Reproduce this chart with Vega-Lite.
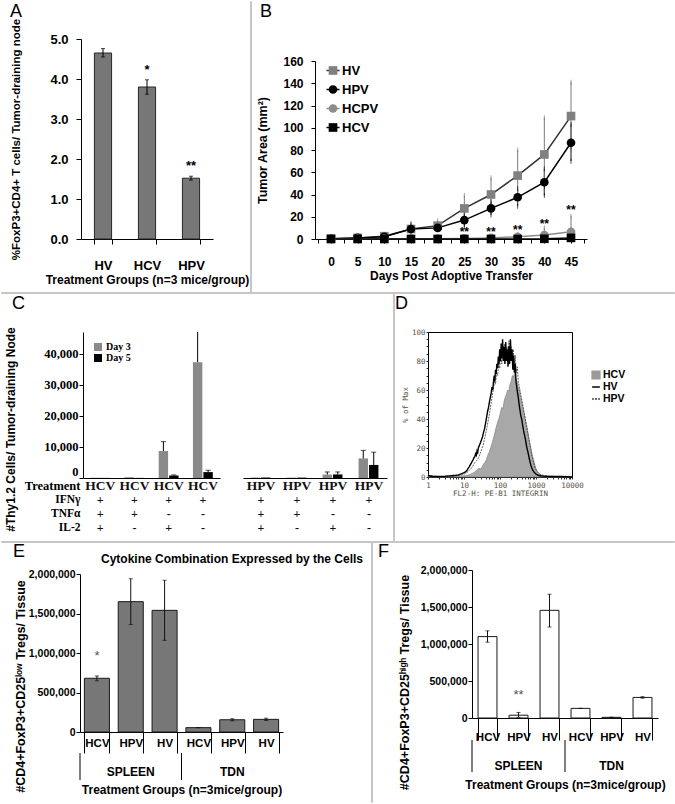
{
"$schema": "https://vega.github.io/schema/vega-lite/v6.json",
"padding": 0,
"background": "white",
"bounds": "flush",
"spacing": 0,
"resolve": {"scale": {"color": "independent", "fill": "independent", "stroke": "independent", "shape": "independent", "size": "independent", "opacity": "independent", "strokeDash": "independent"}, "legend": {"color": "independent", "fill": "independent", "stroke": "independent", "shape": "independent", "size": "independent", "opacity": "independent", "strokeDash": "independent"}},
"config": {
  "view": {"stroke": null},
  "font": "Liberation Sans",
  "axis": {"labelFont": "Liberation Sans", "labelFontWeight": "bold", "labelFontSize": 12, "labelColor": "black", "titleFont": "Liberation Sans", "titleFontWeight": "bold", "titleFontSize": 12, "titleColor": "black", "domainColor": "black", "tickColor": "black", "grid": false, "labelFlush": false, "labelOverlap": false},
  "legend": {"labelFont": "Liberation Sans", "labelFontWeight": "bold", "labelColor": "black"},
  "title": {"anchor": "start", "frame": "group", "offset": 0, "baseline": "alphabetic", "font": "Liberation Sans", "fontSize": 18, "fontWeight": "normal", "color": "black"}
},
"datasets": {
  "A": [
    {"group": "HV", "value": 4.65, "lo": 4.55, "hi": 4.76, "star": "", "starY": 4.65},
    {"group": "HCV", "value": 3.8, "lo": 3.62, "hi": 3.98, "star": "*", "starY": 4.13},
    {"group": "HPV", "value": 1.52, "lo": 1.47, "hi": 1.57, "star": "**", "starY": 1.72}
  ],
  "B": [
    {"series": "HV", "day": 0, "value": 0.3, "lo": 0.3, "hi": 0.3},
    {"series": "HV", "day": 5, "value": 1, "lo": 0.5, "hi": 1.5},
    {"series": "HV", "day": 10, "value": 2.5, "lo": 1.5, "hi": 3.5},
    {"series": "HV", "day": 15, "value": 9, "lo": 4, "hi": 14},
    {"series": "HV", "day": 20, "value": 12, "lo": 7.5, "hi": 16.5},
    {"series": "HV", "day": 25, "value": 27.5, "lo": 16, "hi": 39},
    {"series": "HV", "day": 30, "value": 40, "lo": 25, "hi": 55},
    {"series": "HV", "day": 35, "value": 57, "lo": 34, "hi": 80},
    {"series": "HV", "day": 40, "value": 76, "lo": 43, "hi": 109},
    {"series": "HV", "day": 45, "value": 110.5, "lo": 80, "hi": 141},
    {"series": "HPV", "day": 0, "value": 0.2, "lo": 0.2, "hi": 0.2},
    {"series": "HPV", "day": 5, "value": 1, "lo": 0.7, "hi": 1.3},
    {"series": "HPV", "day": 10, "value": 2, "lo": 1.5, "hi": 2.5},
    {"series": "HPV", "day": 15, "value": 9, "lo": 5, "hi": 13},
    {"series": "HPV", "day": 20, "value": 10, "lo": 7, "hi": 13},
    {"series": "HPV", "day": 25, "value": 17, "lo": 11, "hi": 23},
    {"series": "HPV", "day": 30, "value": 27.5, "lo": 21.5, "hi": 33.5},
    {"series": "HPV", "day": 35, "value": 37.5, "lo": 29.5, "hi": 45.5},
    {"series": "HPV", "day": 40, "value": 51, "lo": 39, "hi": 63},
    {"series": "HPV", "day": 45, "value": 86.5, "lo": 70, "hi": 103},
    {"series": "HCPV", "day": 0, "value": 0, "lo": 0, "hi": 0},
    {"series": "HCPV", "day": 5, "value": 0.3, "lo": 0.3, "hi": 0.3},
    {"series": "HCPV", "day": 10, "value": 0.3, "lo": 0.3, "hi": 0.3},
    {"series": "HCPV", "day": 15, "value": 0.3, "lo": 0.3, "hi": 0.3},
    {"series": "HCPV", "day": 20, "value": 0.3, "lo": 0.3, "hi": 0.3},
    {"series": "HCPV", "day": 25, "value": 0.5, "lo": 0, "hi": 1.5},
    {"series": "HCPV", "day": 30, "value": 1, "lo": 0, "hi": 2.5},
    {"series": "HCPV", "day": 35, "value": 2, "lo": 0, "hi": 4},
    {"series": "HCPV", "day": 40, "value": 3.5, "lo": 0, "hi": 10},
    {"series": "HCPV", "day": 45, "value": 6.5, "lo": 0, "hi": 20.5},
    {"series": "HCV", "day": 0, "value": 0, "lo": 0, "hi": 0},
    {"series": "HCV", "day": 5, "value": 0, "lo": 0, "hi": 0},
    {"series": "HCV", "day": 10, "value": 0, "lo": 0, "hi": 0},
    {"series": "HCV", "day": 15, "value": 0, "lo": 0, "hi": 0},
    {"series": "HCV", "day": 20, "value": 0, "lo": 0, "hi": 0},
    {"series": "HCV", "day": 25, "value": 0, "lo": 0, "hi": 0},
    {"series": "HCV", "day": 30, "value": 0, "lo": 0, "hi": 0},
    {"series": "HCV", "day": 35, "value": 0, "lo": 0, "hi": 0},
    {"series": "HCV", "day": 40, "value": 0.2, "lo": 0, "hi": 0.4},
    {"series": "HCV", "day": 45, "value": 1, "lo": 0, "hi": 2}
  ],
  "Bstar": [
    {"day": 25, "value": 2.6}, {"day": 30, "value": 2.6}, {"day": 35, "value": 4.2}, {"day": 40, "value": 9.6}, {"day": 45, "value": 22.2}
  ],
  "BL": [{"series": "HV"}, {"series": "HPV"}, {"series": "HCPV"}, {"series": "HCV"}],
  "CL": [
    {"col": "c1", "day": "Day 3", "value": 50, "hi": 50, "cap": null},
    {"col": "c1", "day": "Day 5", "value": 30, "hi": 30, "cap": null},
    {"col": "c2", "day": "Day 3", "value": 250, "hi": 250, "cap": null},
    {"col": "c2", "day": "Day 5", "value": 30, "hi": 30, "cap": null},
    {"col": "c3", "day": "Day 3", "value": 8700, "hi": 11700, "cap": 11700},
    {"col": "c3", "day": "Day 5", "value": 800, "hi": 1000, "cap": 1000},
    {"col": "c4", "day": "Day 3", "value": 37300, "hi": 47000, "cap": null},
    {"col": "c4", "day": "Day 5", "value": 1900, "hi": 2500, "cap": 2500}
  ],
  "CR": [
    {"col": "c5", "day": "Day 3", "value": 150, "hi": 150, "cap": null},
    {"col": "c5", "day": "Day 5", "value": 150, "hi": 150, "cap": null},
    {"col": "c6", "day": "Day 3", "value": 120, "hi": 120, "cap": null},
    {"col": "c6", "day": "Day 5", "value": 120, "hi": 120, "cap": null},
    {"col": "c7", "day": "Day 3", "value": 1100, "hi": 1950, "cap": 1950},
    {"col": "c7", "day": "Day 5", "value": 1150, "hi": 1950, "cap": 1950},
    {"col": "c8", "day": "Day 3", "value": 6300, "hi": 8900, "cap": 8900},
    {"col": "c8", "day": "Day 5", "value": 4200, "hi": 8300, "cap": 8300}
  ],
  "TL": [
    {"col": "c1", "row": "Treatment", "txt": "HCV"}, {"col": "c2", "row": "Treatment", "txt": "HCV"}, {"col": "c3", "row": "Treatment", "txt": "HCV"}, {"col": "c4", "row": "Treatment", "txt": "HCV"},
    {"col": "c1", "row": "IFNγ", "txt": "+"}, {"col": "c2", "row": "IFNγ", "txt": "+"}, {"col": "c3", "row": "IFNγ", "txt": "+"}, {"col": "c4", "row": "IFNγ", "txt": "+"},
    {"col": "c1", "row": "TNFα", "txt": "+"}, {"col": "c2", "row": "TNFα", "txt": "+"}, {"col": "c3", "row": "TNFα", "txt": "-"}, {"col": "c4", "row": "TNFα", "txt": "-"},
    {"col": "c1", "row": "IL-2", "txt": "+"}, {"col": "c2", "row": "IL-2", "txt": "-"}, {"col": "c3", "row": "IL-2", "txt": "+"}, {"col": "c4", "row": "IL-2", "txt": "-"}
  ],
  "TR": [
    {"col": "c5", "row": "Treatment", "txt": "HPV"}, {"col": "c6", "row": "Treatment", "txt": "HPV"}, {"col": "c7", "row": "Treatment", "txt": "HPV"}, {"col": "c8", "row": "Treatment", "txt": "HPV"},
    {"col": "c5", "row": "IFNγ", "txt": "+"}, {"col": "c6", "row": "IFNγ", "txt": "+"}, {"col": "c7", "row": "IFNγ", "txt": "+"}, {"col": "c8", "row": "IFNγ", "txt": "+"},
    {"col": "c5", "row": "TNFα", "txt": "+"}, {"col": "c6", "row": "TNFα", "txt": "+"}, {"col": "c7", "row": "TNFα", "txt": "-"}, {"col": "c8", "row": "TNFα", "txt": "-"},
    {"col": "c5", "row": "IL-2", "txt": "+"}, {"col": "c6", "row": "IL-2", "txt": "-"}, {"col": "c7", "row": "IL-2", "txt": "+"}, {"col": "c8", "row": "IL-2", "txt": "-"}
  ],
  "DHCV": [
    {"x": 1, "y": 1.5}, {"x": 1.2, "y": 0.8}, {"x": 1.5, "y": 0.5}, {"x": 2, "y": 0.3}, {"x": 3, "y": 0.2}, {"x": 5, "y": 0.4}, {"x": 8, "y": 0.6}, {"x": 11, "y": 1}, {"x": 14, "y": 1.5}, {"x": 17, "y": 2.5}, {"x": 20, "y": 3.5}, {"x": 23, "y": 5}, {"x": 26, "y": 6}, {"x": 29, "y": 5.5}, {"x": 32, "y": 7}, {"x": 35, "y": 9}, {"x": 38, "y": 10}, {"x": 42, "y": 12}, {"x": 46, "y": 15}, {"x": 50, "y": 17}, {"x": 55, "y": 20}, {"x": 60, "y": 23}, {"x": 65, "y": 26}, {"x": 70, "y": 29}, {"x": 76, "y": 33}, {"x": 82, "y": 36}, {"x": 89, "y": 39}, {"x": 96, "y": 41}, {"x": 104, "y": 45}, {"x": 112, "y": 48}, {"x": 121, "y": 47}, {"x": 130, "y": 52}, {"x": 140, "y": 55}, {"x": 151, "y": 57}, {"x": 163, "y": 60}, {"x": 176, "y": 59}, {"x": 190, "y": 64}, {"x": 205, "y": 66}, {"x": 221, "y": 70}, {"x": 238, "y": 69}, {"x": 256, "y": 72}, {"x": 276, "y": 68}, {"x": 297, "y": 66}, {"x": 320, "y": 62}, {"x": 345, "y": 60}, {"x": 372, "y": 55}, {"x": 401, "y": 52}, {"x": 432, "y": 48}, {"x": 466, "y": 44}, {"x": 502, "y": 40}, {"x": 541, "y": 36}, {"x": 583, "y": 32}, {"x": 628, "y": 27}, {"x": 677, "y": 23}, {"x": 730, "y": 19}, {"x": 787, "y": 15}, {"x": 848, "y": 12}, {"x": 914, "y": 9}, {"x": 985, "y": 6}, {"x": 1062, "y": 4}, {"x": 1145, "y": 3}, {"x": 1300, "y": 1.5}, {"x": 1600, "y": 1}, {"x": 2200, "y": 0.5}, {"x": 4000, "y": 0.3}, {"x": 7000, "y": 0.2}, {"x": 10000, "y": 0}
  ],
  "DHV": [
    {"x": 1, "y": 1}, {"x": 1.3, "y": 0.5}, {"x": 2, "y": 0.3}, {"x": 3, "y": 0.5}, {"x": 4, "y": 0.8}, {"x": 5, "y": 1}, {"x": 6, "y": 1.2}, {"x": 7, "y": 1.5}, {"x": 8, "y": 2}, {"x": 9, "y": 2.5}, {"x": 10, "y": 3}, {"x": 11, "y": 3.5}, {"x": 12, "y": 4.5}, {"x": 13, "y": 6}, {"x": 14, "y": 7}, {"x": 15, "y": 8.5}, {"x": 16, "y": 9.5}, {"x": 17, "y": 11}, {"x": 18, "y": 12}, {"x": 19, "y": 13.5}, {"x": 20, "y": 14}, {"x": 21, "y": 16}, {"x": 22, "y": 15}, {"x": 23, "y": 18}, {"x": 24, "y": 17}, {"x": 25, "y": 20}, {"x": 27, "y": 22}, {"x": 29, "y": 24}, {"x": 31, "y": 26}, {"x": 33, "y": 28}, {"x": 35, "y": 31}, {"x": 37, "y": 33}, {"x": 39, "y": 36}, {"x": 41, "y": 39}, {"x": 43, "y": 42}, {"x": 45, "y": 45}, {"x": 48, "y": 48}, {"x": 51, "y": 52}, {"x": 54, "y": 55}, {"x": 57, "y": 58}, {"x": 60, "y": 62}, {"x": 63, "y": 60}, {"x": 66, "y": 66}, {"x": 69, "y": 70}, {"x": 72, "y": 66}, {"x": 75, "y": 74}, {"x": 78, "y": 71}, {"x": 82, "y": 78}, {"x": 86, "y": 75}, {"x": 90, "y": 83}, {"x": 94, "y": 78}, {"x": 98, "y": 88}, {"x": 103, "y": 80}, {"x": 108, "y": 92}, {"x": 113, "y": 82}, {"x": 118, "y": 95}, {"x": 124, "y": 80}, {"x": 130, "y": 90}, {"x": 137, "y": 78}, {"x": 144, "y": 93}, {"x": 151, "y": 80}, {"x": 159, "y": 88}, {"x": 167, "y": 76}, {"x": 176, "y": 90}, {"x": 185, "y": 78}, {"x": 195, "y": 95}, {"x": 205, "y": 80}, {"x": 216, "y": 88}, {"x": 227, "y": 74}, {"x": 239, "y": 84}, {"x": 251, "y": 72}, {"x": 264, "y": 78}, {"x": 278, "y": 66}, {"x": 292, "y": 62}, {"x": 307, "y": 58}, {"x": 322, "y": 55}, {"x": 340, "y": 50}, {"x": 360, "y": 46}, {"x": 380, "y": 42}, {"x": 400, "y": 40}, {"x": 430, "y": 35}, {"x": 460, "y": 31}, {"x": 500, "y": 27}, {"x": 550, "y": 21}, {"x": 600, "y": 17}, {"x": 660, "y": 12}, {"x": 720, "y": 8}, {"x": 800, "y": 5}, {"x": 900, "y": 3}, {"x": 1000, "y": 2}, {"x": 1200, "y": 1}, {"x": 1500, "y": 0.6}, {"x": 2000, "y": 0.4}, {"x": 3000, "y": 0.3}, {"x": 5000, "y": 0.3}, {"x": 7000, "y": 0.2}, {"x": 10000, "y": 0}
  ],
  "DHPV": [
    {"x": 1, "y": 0.8}, {"x": 2, "y": 0.3}, {"x": 4, "y": 0.5}, {"x": 6, "y": 0.8}, {"x": 8, "y": 1.2}, {"x": 10, "y": 2}, {"x": 12, "y": 3}, {"x": 14, "y": 4.5}, {"x": 16, "y": 6}, {"x": 18, "y": 8}, {"x": 20, "y": 10}, {"x": 22, "y": 11}, {"x": 25, "y": 13}, {"x": 28, "y": 16}, {"x": 31, "y": 19}, {"x": 34, "y": 22}, {"x": 37, "y": 26}, {"x": 40, "y": 30}, {"x": 44, "y": 35}, {"x": 48, "y": 40}, {"x": 52, "y": 45}, {"x": 56, "y": 50}, {"x": 60, "y": 55}, {"x": 65, "y": 60}, {"x": 70, "y": 66}, {"x": 75, "y": 64}, {"x": 80, "y": 72}, {"x": 86, "y": 70}, {"x": 92, "y": 78}, {"x": 98, "y": 75}, {"x": 105, "y": 84}, {"x": 112, "y": 78}, {"x": 120, "y": 88}, {"x": 128, "y": 82}, {"x": 137, "y": 92}, {"x": 146, "y": 84}, {"x": 156, "y": 90}, {"x": 167, "y": 82}, {"x": 178, "y": 94}, {"x": 190, "y": 84}, {"x": 203, "y": 90}, {"x": 217, "y": 80}, {"x": 232, "y": 88}, {"x": 248, "y": 78}, {"x": 265, "y": 84}, {"x": 283, "y": 72}, {"x": 302, "y": 76}, {"x": 322, "y": 66}, {"x": 345, "y": 62}, {"x": 370, "y": 58}, {"x": 396, "y": 54}, {"x": 424, "y": 50}, {"x": 454, "y": 46}, {"x": 486, "y": 42}, {"x": 520, "y": 38}, {"x": 557, "y": 34}, {"x": 596, "y": 30}, {"x": 638, "y": 26}, {"x": 683, "y": 22}, {"x": 731, "y": 18}, {"x": 782, "y": 14}, {"x": 837, "y": 11}, {"x": 896, "y": 8}, {"x": 960, "y": 6}, {"x": 1030, "y": 4.5}, {"x": 1100, "y": 3.5}, {"x": 1200, "y": 2.5}, {"x": 1400, "y": 1.5}, {"x": 1700, "y": 1}, {"x": 2200, "y": 0.6}, {"x": 3000, "y": 0.4}, {"x": 5000, "y": 0.3}, {"x": 10000, "y": 0}
  ],
  "DL": [{"series": "HCV"}, {"series": "HV"}, {"series": "HPV"}],
  "E": [
    {"key": "SPLEEN|HCV", "value": 680000, "lo": 650000, "hi": 710000, "star": "*", "starY": 914000},
    {"key": "SPLEEN|HPV", "value": 1650000, "lo": 1360000, "hi": 1940000, "star": "", "starY": 0},
    {"key": "SPLEEN|HV", "value": 1540000, "lo": 1160000, "hi": 1920000, "star": "", "starY": 0},
    {"key": "TDN|HCV", "value": 55000, "lo": 55000, "hi": 55000, "star": "", "starY": 0},
    {"key": "TDN|HPV", "value": 155000, "lo": 142000, "hi": 168000, "star": "", "starY": 0},
    {"key": "TDN|HV", "value": 160000, "lo": 145000, "hi": 175000, "star": "", "starY": 0}
  ],
  "F": [
    {"key": "SPLEEN|HCV", "value": 1100000, "lo": 1025000, "hi": 1178000, "star": "", "starY": 0},
    {"key": "SPLEEN|HPV", "value": 38000, "lo": 8000, "hi": 75000, "star": "**", "starY": 261000},
    {"key": "SPLEEN|HV", "value": 1455000, "lo": 1230000, "hi": 1672000, "star": "", "starY": 0},
    {"key": "TDN|HCV", "value": 130000, "lo": 130000, "hi": 130000, "star": "", "starY": 0},
    {"key": "TDN|HPV", "value": 9000, "lo": 9000, "hi": 9000, "star": "", "starY": 0},
    {"key": "TDN|HV", "value": 278000, "lo": 268000, "hi": 288000, "star": "", "starY": 0}
  ],
  "G": [
    {"key": "SPLEEN|HCV", "kind": "sep", "label": ""},
    {"key": "TDN|HCV", "kind": "sep", "label": ""},
    {"key": "SPLEEN|HPV", "kind": "lab", "label": "SPLEEN"},
    {"key": "TDN|HPV", "kind": "lab", "label": "TDN"}
  ]
},
"vconcat": [
  {"bounds": "flush", "spacing": 38, "vconcat": [
    {"width": 1, "height": 1, "data": {"values": []}, "mark": "point", "title": {"text": "A", "dx": 10, "dy": 25}},
    {"bounds": "flush", "spacing": 80, "hconcat": [
      {"width": 1, "height": 1, "data": {"values": []}, "mark": "point"},
      {"data": {"name": "A"}, "width": 132, "height": 200,
       "encoding": {
         "x": {"field": "group", "type": "nominal", "scale": {"type": "band", "domain": ["HV", "HCV", "HPV"], "paddingInner": 0.61, "paddingOuter": 0.305}, "axis": {"tickBand": "extent", "tickSize": 5, "labelPadding": 15, "labelFontSize": 13, "labelAngle": 0, "title": "Treatment Groups (n=3 mice/group)", "titlePadding": 2}},
         "y": {"field": "value", "type": "quantitative", "scale": {"domain": [0, 5], "nice": false}, "axis": {"values": [0, 1, 2, 3, 4, 5], "format": ".1f", "labelFontSize": 13, "tickSize": 5, "labelPadding": 8, "title": "%FoxP3+CD4+ T cells/ Tumor-draining node", "titleFontSize": 11.5, "titlePadding": 28}}
       },
       "layer": [
         {"mark": {"type": "bar", "fill": "#777777", "stroke": "#262626", "strokeWidth": 1}},
         {"mark": {"type": "rule", "color": "black"}, "encoding": {"y2": {"field": "hi"}}},
         {"mark": {"type": "rule", "color": "black"}, "encoding": {"y2": {"field": "lo"}}},
         {"transform": [{"fold": ["lo", "hi"], "as": ["k", "value"]}], "mark": {"type": "tick", "color": "black", "size": 4, "thickness": 1}},
         {"transform": [{"filter": "datum.star != ''"}, {"fold": ["starY"], "as": ["k", "value"]}], "mark": {"type": "text", "fontSize": 13, "fontWeight": "bold", "baseline": "alphabetic"}, "encoding": {"text": {"field": "star"}}}
       ]}
    ]}
  ]},
  {"bounds": "flush", "spacing": 60, "vconcat": [
    {"width": 1, "height": 1, "data": {"values": []}, "mark": "point", "title": {"text": "B", "dx": 260, "dy": 25}},
    {"bounds": "flush", "spacing": 314, "hconcat": [
      {"width": 1, "height": 1, "data": {"values": []}, "mark": "point"},
      {"width": 272, "height": 178,
       "encoding": {
         "x": {"field": "day", "type": "quantitative", "scale": {"domain": [-3, 48], "nice": false, "zero": false}, "axis": {"values": [-2.5, 0, 2.5, 5, 7.5, 10, 12.5, 15, 17.5, 20, 22.5, 25, 27.5, 30, 32.5, 35, 37.5, 40, 42.5, 45, 47.5], "labelExpr": "datum.value % 5 == 0 && datum.value >= 0 ? datum.label : ''", "tickSize": 4, "labelPadding": 13, "title": "Days Post Adoptive Transfer", "titlePadding": 3}},
         "y": {"field": "value", "type": "quantitative", "scale": {"domain": [0, 160], "nice": false}, "axis": {"values": [0, 20, 40, 60, 80, 100, 120, 140, 160], "tickSize": 4, "labelPadding": 8, "title": "Tumor Area (mm²)", "titleFontSize": 12.5, "titlePadding": 13}}
       },
       "layer": [
         {"data": {"name": "B"}, "mark": {"type": "rule", "strokeWidth": 1}, "encoding": {"y2": {"field": "hi"}, "color": {"condition": {"test": "datum.series == 'HV' || datum.series == 'HCPV'", "value": "#7a7a7a"}, "value": "#111111"}}},
         {"data": {"name": "B"}, "mark": {"type": "rule", "strokeWidth": 1}, "encoding": {"y2": {"field": "lo"}, "color": {"condition": {"test": "datum.series == 'HV' || datum.series == 'HCPV'", "value": "#7a7a7a"}, "value": "#111111"}}},
         {"data": {"name": "B"}, "transform": [{"filter": "datum.hi - datum.value > 1.5"}, {"fold": ["hi"], "as": ["k", "value"]}], "mark": {"type": "tick", "size": 5, "thickness": 1}, "encoding": {"color": {"condition": {"test": "datum.series == 'HV' || datum.series == 'HCPV'", "value": "#7a7a7a"}, "value": "#111111"}}},
         {"data": {"name": "B"}, "transform": [{"filter": "datum.value - datum.lo > 5"}, {"fold": ["lo"], "as": ["k", "value"]}], "mark": {"type": "tick", "size": 5, "thickness": 1}, "encoding": {"color": {"condition": {"test": "datum.series == 'HV' || datum.series == 'HCPV'", "value": "#7a7a7a"}, "value": "#111111"}}},
         {"data": {"name": "B"}, "mark": {"type": "line", "strokeWidth": 1.5}, "encoding": {"stroke": {"field": "series", "type": "nominal", "scale": {"domain": ["HV", "HPV", "HCPV", "HCV"], "range": ["#333333", "#000000", "#8c8c8c", "#000000"]}, "legend": null}, "detail": {"field": "series"}}},
         {"data": {"name": "B"}, "mark": {"type": "point", "filled": true, "opacity": 1, "size": 75}, "encoding": {"fill": {"field": "series", "type": "nominal", "scale": {"domain": ["HV", "HPV", "HCPV", "HCV"], "range": ["#808080", "#000000", "#8c8c8c", "#000000"]}, "legend": null}, "shape": {"field": "series", "type": "nominal", "scale": {"domain": ["HV", "HPV", "HCPV", "HCV"], "range": ["square", "circle", "circle", "square"]}, "legend": null}}},
         {"data": {"name": "Bstar"}, "mark": {"type": "text", "text": "**", "fontSize": 12, "fontWeight": "bold", "baseline": "alphabetic"}}
       ]}
    ]}
  ]},
  {"bounds": "flush", "spacing": 60, "vconcat": [
    {"width": 1, "height": 1, "data": {"values": []}, "mark": "point"},
    {"bounds": "flush", "spacing": 324, "hconcat": [
      {"width": 1, "height": 1, "data": {"values": []}, "mark": "point"},
      {"data": {"name": "BL"}, "width": 16, "height": 76,
       "encoding": {"y": {"field": "series", "type": "nominal", "scale": {"type": "point", "domain": ["HV", "HPV", "HCPV", "HCV"], "padding": 0.5}, "axis": null}},
       "layer": [
         {"mark": {"type": "point", "shape": "stroke", "size": 170, "strokeWidth": 1.5, "filled": false, "opacity": 1}, "encoding": {"stroke": {"field": "series", "type": "nominal", "scale": {"domain": ["HV", "HPV", "HCPV", "HCV"], "range": ["#333333", "#000000", "#8c8c8c", "#000000"]}, "legend": null}}},
         {"mark": {"type": "point", "filled": true, "opacity": 1, "size": 75}, "encoding": {"fill": {"field": "series", "type": "nominal", "scale": {"domain": ["HV", "HPV", "HCPV", "HCV"], "range": ["#808080", "#000000", "#8c8c8c", "#000000"]}, "legend": null}, "shape": {"field": "series", "type": "nominal", "scale": {"domain": ["HV", "HPV", "HCPV", "HCV"], "range": ["square", "circle", "circle", "square"]}, "legend": null}}},
         {"mark": {"type": "text", "align": "left", "baseline": "middle", "dx": 9, "fontWeight": "bold", "fontSize": 13}, "encoding": {"text": {"field": "series"}}}
       ]}
    ]}
  ]},
  {"bounds": "flush", "spacing": 331,
   "resolve": {"scale": {"color": "independent"}, "legend": {"color": "independent"}},
   "vconcat": [
    {"width": 1, "height": 1, "data": {"values": []}, "mark": "point", "title": {"text": "C", "dx": 12, "dy": 317}},
    {"bounds": "flush", "spacing": 82,
     "resolve": {"scale": {"color": "independent"}, "legend": {"color": "independent"}},
     "hconcat": [
      {"width": 1, "height": 1, "data": {"values": []}, "mark": "point"},
      {"data": {"name": "CL"}, "width": 137, "height": 146,
       "encoding": {
         "x": {"field": "col", "type": "nominal", "scale": {"type": "band", "domain": ["c1", "c2", "c3", "c4"], "paddingInner": 0.42, "paddingOuter": 0.21}, "axis": {"labels": false, "ticks": false, "title": null}},
         "xOffset": {"field": "day", "type": "nominal", "scale": {"domain": ["Day 3", "Day 5"], "paddingInner": 0.1}},
         "y": {"field": "value", "type": "quantitative", "scale": {"domain": [0, 47000], "nice": false}, "axis": {"values": [0, 10000, 20000, 30000, 40000], "format": ",.0f", "labelFont": "Liberation Serif", "labelFontSize": 12.5, "labelBaseline": {"condition": {"test": "datum.value == 0", "value": "bottom"}, "value": "middle"}, "tickSize": 4, "labelPadding": 1, "title": "#Thy1.2 Cells/ Tumor-draining Node", "titleFontSize": 12, "titleY": 97, "titlePadding": 26}}
       },
       "layer": [
         {"mark": {"type": "bar"}, "encoding": {"color": {"field": "day", "type": "nominal", "scale": {"domain": ["Day 3", "Day 5"], "range": ["#8a8a8a", "#000000"]}, "legend": {"orient": "none", "legendX": 10, "legendY": 10, "title": null, "symbolType": "square", "symbolSize": 64, "labelFont": "Liberation Serif", "labelFontSize": 10, "rowPadding": 1, "labelOffset": 3}}}},
         {"mark": {"type": "rule", "color": "black"}, "encoding": {"y2": {"field": "hi"}}},
         {"transform": [{"fold": ["cap"], "as": ["k", "value"]}, {"filter": "isValid(datum.value)"}], "mark": {"type": "tick", "color": "black", "size": 5, "thickness": 1}}
       ]}
    ]}
  ]},
  {"bounds": "flush", "spacing": 331, "vconcat": [
    {"width": 1, "height": 1, "data": {"values": []}, "mark": "point"},
    {"bounds": "flush", "spacing": 242, "hconcat": [
      {"width": 1, "height": 1, "data": {"values": []}, "mark": "point"},
      {"data": {"name": "CR"}, "width": 144, "height": 146,
       "encoding": {
         "x": {"field": "col", "type": "nominal", "scale": {"type": "band", "domain": ["c5", "c6", "c7", "c8"], "paddingInner": 0.42, "paddingOuter": 0.21}, "axis": {"labels": false, "ticks": false, "title": null}},
         "xOffset": {"field": "day", "type": "nominal", "scale": {"domain": ["Day 3", "Day 5"], "paddingInner": 0.1}},
         "y": {"field": "value", "type": "quantitative", "scale": {"domain": [0, 47000], "nice": false}, "axis": null}
       },
       "layer": [
         {"mark": {"type": "bar"}, "encoding": {"color": {"field": "day", "type": "nominal", "scale": {"domain": ["Day 3", "Day 5"], "range": ["#8a8a8a", "#000000"]}, "legend": null}}},
         {"mark": {"type": "rule", "color": "black"}, "encoding": {"y2": {"field": "hi"}}},
         {"transform": [{"fold": ["cap"], "as": ["k", "value"]}, {"filter": "isValid(datum.value)"}], "mark": {"type": "tick", "color": "black", "size": 5, "thickness": 1}}
       ]}
    ]}
  ]},
  {"bounds": "flush", "spacing": 478, "vconcat": [
    {"width": 1, "height": 1, "data": {"values": []}, "mark": "point"},
    {"bounds": "flush", "spacing": 82, "hconcat": [
      {"width": 1, "height": 1, "data": {"values": []}, "mark": "point"},
      {"data": {"name": "TL"}, "width": 137, "height": 56,
       "mark": {"type": "text", "font": "Liberation Serif", "fontWeight": "bold", "baseline": "middle", "color": "#111111"},
       "encoding": {
         "x": {"field": "col", "type": "nominal", "scale": {"type": "band", "domain": ["c1", "c2", "c3", "c4"], "paddingInner": 0, "paddingOuter": 0}, "axis": null},
         "y": {"field": "row", "type": "nominal", "scale": {"type": "band", "domain": ["Treatment", "IFNγ", "TNFα", "IL-2"], "paddingInner": 0, "paddingOuter": 0}, "axis": {"domain": false, "ticks": false, "title": null, "labelFont": "Liberation Serif", "labelFontSize": {"condition": {"test": "datum.value == 'Treatment'", "value": 12.5}, "value": 11.5}, "labelPadding": 3}},
         "text": {"field": "txt"},
         "size": {"condition": {"test": "datum.row == 'Treatment'", "value": 13.5}, "value": 12}
       }}
    ]}
  ]},
  {"bounds": "flush", "spacing": 478, "vconcat": [
    {"width": 1, "height": 1, "data": {"values": []}, "mark": "point"},
    {"bounds": "flush", "spacing": 242, "hconcat": [
      {"width": 1, "height": 1, "data": {"values": []}, "mark": "point"},
      {"data": {"name": "TR"}, "width": 144, "height": 56,
       "mark": {"type": "text", "font": "Liberation Serif", "fontWeight": "bold", "baseline": "middle", "color": "#111111"},
       "encoding": {
         "x": {"field": "col", "type": "nominal", "scale": {"type": "band", "domain": ["c5", "c6", "c7", "c8"], "paddingInner": 0, "paddingOuter": 0}, "axis": null},
         "y": {"field": "row", "type": "nominal", "scale": {"type": "band", "domain": ["Treatment", "IFNγ", "TNFα", "IL-2"], "paddingInner": 0, "paddingOuter": 0}, "axis": null},
         "text": {"field": "txt"},
         "size": {"condition": {"test": "datum.row == 'Treatment'", "value": 13.5}, "value": 12}
       }}
    ]}
  ]},
  {"bounds": "flush", "spacing": 331, "vconcat": [
    {"width": 1, "height": 1, "data": {"values": []}, "mark": "point", "title": {"text": "D", "dx": 395, "dy": 317}},
    {"bounds": "flush", "spacing": 427, "hconcat": [
      {"width": 1, "height": 1, "data": {"values": []}, "mark": "point"},
      {"width": 144, "height": 145,
       "view": {"stroke": "black", "strokeWidth": 1},
       "encoding": {
         "x": {"field": "x", "type": "quantitative", "scale": {"type": "log", "domain": [1, 10000], "nice": false}, "axis": {"values": [1, 2, 3, 4, 5, 6, 7, 8, 9, 10, 20, 30, 40, 50, 60, 70, 80, 90, 100, 200, 300, 400, 500, 600, 700, 800, 900, 1000, 2000, 3000, 4000, 5000, 6000, 7000, 8000, 9000, 10000], "format": "d", "labelExpr": "indexof([1, 10, 100, 1000, 10000], datum.value) >= 0 ? datum.label : ''", "labelFont": "DejaVu Sans Mono", "labelFontSize": 7.5, "labelFontWeight": "normal", "labelColor": "#5b5145", "tickSize": 2, "tickColor": "#333333", "labelPadding": 2, "title": "FL2-H: PE-B1 INTEGRIN", "titleFont": "DejaVu Sans Mono", "titleFontSize": 7.5, "titleFontWeight": "normal", "titleColor": "#5b5145", "titlePadding": 1}},
         "y": {"field": "y", "type": "quantitative", "scale": {"domain": [0, 100], "nice": false}, "axis": {"values": [0, 5, 10, 15, 20, 25, 30, 35, 40, 45, 50, 55, 60, 65, 70, 75, 80, 85, 90, 95, 100], "labelExpr": "datum.value % 20 == 0 ? datum.label : ''", "labelFont": "DejaVu Sans Mono", "labelFontSize": 7.5, "labelFontWeight": "normal", "labelColor": "#5b5145", "tickSize": 2, "tickColor": "#333333", "labelPadding": 1, "title": "% of Max", "titleFont": "DejaVu Sans Mono", "titleFontSize": 7.5, "titleFontWeight": "normal", "titleColor": "#5b5145", "titlePadding": 2}}
       },
       "layer": [
         {"data": {"name": "DHCV"}, "mark": {"type": "area", "fill": "#a8a8a8", "stroke": "#8a8a8a", "strokeWidth": 0.8}},
         {"data": {"name": "DHPV"}, "mark": {"type": "line", "color": "#3a3a3a", "strokeWidth": 0.8, "strokeDash": [2, 1]}},
         {"data": {"name": "DHV"}, "mark": {"type": "line", "color": "#000000", "strokeWidth": 1.4}}
       ]}
    ]}
  ]},
  {"bounds": "flush", "spacing": 368, "vconcat": [
    {"width": 1, "height": 1, "data": {"values": []}, "mark": "point"},
    {"bounds": "flush", "spacing": 589, "hconcat": [
      {"width": 1, "height": 1, "data": {"values": []}, "mark": "point"},
      {"data": {"name": "DL"}, "width": 12, "height": 36,
       "encoding": {"y": {"field": "series", "type": "nominal", "scale": {"type": "point", "domain": ["HCV", "HV", "HPV"], "padding": 0.5}, "axis": null}},
       "layer": [
         {"mark": {"type": "point", "strokeWidth": 1.5, "size": 60, "opacity": 1}, "encoding": {
           "shape": {"field": "series", "type": "nominal", "scale": {"domain": ["HCV", "HV", "HPV"], "range": ["square", "stroke", "M-1,0H-0.55M-0.25,0H0.25M0.55,0H1"]}, "legend": null},
           "fill": {"field": "series", "type": "nominal", "scale": {"domain": ["HCV", "HV", "HPV"], "range": ["#9a9a9a", "transparent", "transparent"]}, "legend": null},
           "stroke": {"field": "series", "type": "nominal", "scale": {"domain": ["HCV", "HV", "HPV"], "range": ["#9a9a9a", "#000000", "#333333"]}, "legend": null}}},
         {"mark": {"type": "text", "align": "left", "baseline": "middle", "dx": 7, "fontWeight": "bold", "fontSize": 10.5}, "encoding": {"text": {"field": "series"}}}
       ]}
    ]}
  ]},
  {"bounds": "flush", "spacing": 573, "vconcat": [
    {"width": 1, "height": 1, "data": {"values": []}, "mark": "point", "title": {"text": "E", "dx": 13, "dy": 565}},
    {"bounds": "flush", "spacing": 79, "hconcat": [
      {"width": 1, "height": 1, "data": {"values": []}, "mark": "point", "title": {"text": "Cytokine Combination Expressed by the Cells", "align": "center", "dx": 232, "dy": -4, "fontSize": 12, "fontWeight": "bold"}},
      {"data": {"name": "E"}, "width": 203, "height": 158,
       "encoding": {
         "x": {"field": "key", "type": "nominal", "scale": {"type": "band", "domain": ["SPLEEN|HCV", "SPLEEN|HPV", "SPLEEN|HV", "TDN|HCV", "TDN|HPV", "TDN|HV"], "paddingInner": 0.26, "paddingOuter": 0.13}, "axis": {"labelExpr": "split(datum.value, '|')[1]", "tickBand": "extent", "tickSize": 21, "labelPadding": -16, "labelAngle": 0, "labelFontSize": 11.5, "title": null}},
         "y": {"field": "value", "type": "quantitative", "scale": {"domain": [0, 2000000], "nice": false}, "axis": {"values": [0, 500000, 1000000, 1500000, 2000000], "format": ",.0f", "labelFontSize": 10.5, "tickSize": 4, "labelPadding": 1, "title": "#CD4+FoxP3+CD25ˡᵒʷ Tregs/ Tissue", "titleFontSize": 12.5, "titleY": 112, "titlePadding": 1}}
       },
       "layer": [
         {"mark": {"type": "bar", "fill": "#777777", "stroke": "#1a1a1a", "strokeWidth": 1}},
         {"mark": {"type": "rule", "color": "#111111"}, "encoding": {"y2": {"field": "hi"}}},
         {"mark": {"type": "rule", "color": "#111111"}, "encoding": {"y2": {"field": "lo"}}},
         {"transform": [{"fold": ["lo", "hi"], "as": ["k", "value"]}], "mark": {"type": "tick", "color": "#111111", "size": 4, "thickness": 1}},
         {"transform": [{"filter": "datum.star != ''"}, {"fold": ["starY"], "as": ["k", "value"]}], "mark": {"type": "text", "fontSize": 13, "color": "#555555", "baseline": "alphabetic"}, "encoding": {"text": {"field": "star"}}}
       ]}
    ]}
  ]},
  {"bounds": "flush", "spacing": 752, "vconcat": [
    {"width": 1, "height": 1, "data": {"values": []}, "mark": "point"},
    {"bounds": "flush", "spacing": 79, "hconcat": [
      {"width": 1, "height": 1, "data": {"values": []}, "mark": "point"},
      {"data": {"name": "G"}, "width": 203, "height": 27,
       "layer": [
         {"transform": [{"filter": "datum.kind == 'sep'"}], "mark": {"type": "rule", "color": "black"}, "encoding": {"x": {"field": "key", "type": "nominal", "bandPosition": 0, "scale": {"type": "band", "domain": ["SPLEEN|HCV", "SPLEEN|HPV", "SPLEEN|HV", "TDN|HCV", "TDN|HPV", "TDN|HV"], "paddingInner": 0, "paddingOuter": 0}, "axis": {"labels": false, "ticks": false, "domain": false, "title": "Treatment Groups (n=3mice/group)", "titlePadding": 4}}}},
         {"transform": [{"filter": "datum.kind == 'lab'"}], "mark": {"type": "text", "fontWeight": "bold", "fontSize": 12, "baseline": "middle", "dy": 5}, "encoding": {"x": {"field": "key", "type": "nominal", "scale": {"type": "band", "domain": ["SPLEEN|HCV", "SPLEEN|HPV", "SPLEEN|HV", "TDN|HCV", "TDN|HPV", "TDN|HV"], "paddingInner": 0, "paddingOuter": 0}}, "text": {"field": "label"}}}
       ]}
    ]}
  ]},
  {"bounds": "flush", "spacing": 569, "vconcat": [
    {"width": 1, "height": 1, "data": {"values": []}, "mark": "point", "title": {"text": "F", "dx": 378, "dy": 565}},
    {"bounds": "flush", "spacing": 471, "hconcat": [
      {"width": 1, "height": 1, "data": {"values": []}, "mark": "point"},
      {"data": {"name": "F"}, "width": 186, "height": 148,
       "encoding": {
         "x": {"field": "key", "type": "nominal", "scale": {"type": "band", "domain": ["SPLEEN|HCV", "SPLEEN|HPV", "SPLEEN|HV", "TDN|HCV", "TDN|HPV", "TDN|HV"], "paddingInner": 0.39, "paddingOuter": 0.195}, "axis": {"labelExpr": "split(datum.value, '|')[1]", "tickBand": "extent", "tickSize": 22, "labelPadding": -9, "labelAngle": 0, "labelFontSize": 11.5, "title": null}},
         "y": {"field": "value", "type": "quantitative", "scale": {"domain": [0, 2000000], "nice": false}, "axis": {"values": [0, 500000, 1000000, 1500000, 2000000], "format": ",.0f", "labelFontSize": 10.5, "tickSize": 4, "labelPadding": 1, "title": "#CD4+FoxP3+CD25ʰⁱᵍʰ Tregs/ Tissue", "titleFontSize": 12.5, "titleY": 112, "titlePadding": 9}}
       },
       "layer": [
         {"mark": {"type": "bar", "fill": "white", "stroke": "#1a1a1a", "strokeWidth": 1}},
         {"mark": {"type": "rule", "color": "#111111"}, "encoding": {"y2": {"field": "hi"}}},
         {"mark": {"type": "rule", "color": "#111111"}, "encoding": {"y2": {"field": "lo"}}},
         {"transform": [{"fold": ["lo", "hi"], "as": ["k", "value"]}], "mark": {"type": "tick", "color": "#111111", "size": 4, "thickness": 1}},
         {"transform": [{"filter": "datum.star != ''"}, {"fold": ["starY"], "as": ["k", "value"]}], "mark": {"type": "text", "fontSize": 13, "color": "#555555", "baseline": "alphabetic"}, "encoding": {"text": {"field": "star"}}}
       ]}
    ]}
  ]},
  {"bounds": "flush", "spacing": 739, "vconcat": [
    {"width": 1, "height": 1, "data": {"values": []}, "mark": "point"},
    {"bounds": "flush", "spacing": 471, "hconcat": [
      {"width": 1, "height": 1, "data": {"values": []}, "mark": "point"},
      {"data": {"name": "G"}, "width": 186, "height": 32,
       "layer": [
         {"transform": [{"filter": "datum.kind == 'sep'"}], "mark": {"type": "rule", "color": "black"}, "encoding": {"x": {"field": "key", "type": "nominal", "bandPosition": 0, "scale": {"type": "band", "domain": ["SPLEEN|HCV", "SPLEEN|HPV", "SPLEEN|HV", "TDN|HCV", "TDN|HPV", "TDN|HV"], "paddingInner": 0, "paddingOuter": 0}, "axis": {"labels": false, "ticks": false, "domain": false, "title": "Treatment Groups (n=3mice/group)", "titlePadding": 7}}}},
         {"transform": [{"filter": "datum.kind == 'lab'"}], "mark": {"type": "text", "fontWeight": "bold", "fontSize": 12, "baseline": "middle", "dy": 10}, "encoding": {"x": {"field": "key", "type": "nominal", "scale": {"type": "band", "domain": ["SPLEEN|HCV", "SPLEEN|HPV", "SPLEEN|HV", "TDN|HCV", "TDN|HPV", "TDN|HV"], "paddingInner": 0, "paddingOuter": 0}}, "text": {"field": "label"}}}
       ]}
    ]}
  ]},
  {"bounds": "flush", "spacing": 0, "vconcat": [
    {"width": 1, "height": 1, "data": {"values": []}, "mark": "point"},
    {"bounds": "flush", "spacing": 249, "hconcat": [
      {"width": 1, "height": 1, "data": {"values": []}, "mark": "point"},
      {"width": 1, "height": 291, "data": {"values": []}, "mark": "point", "view": {"stroke": "#c6c6c6", "strokeWidth": 1}}
    ]}
  ]},
  {"bounds": "flush", "spacing": 291, "vconcat": [
    {"width": 1, "height": 1, "data": {"values": []}, "mark": "point"},
    {"bounds": "flush", "spacing": 0, "hconcat": [
      {"width": 1, "height": 1, "data": {"values": []}, "mark": "point"},
      {"width": 673, "height": 1, "data": {"values": []}, "mark": "point", "view": {"stroke": "#c6c6c6", "strokeWidth": 1}}
    ]}
  ]},
  {"bounds": "flush", "spacing": 292, "vconcat": [
    {"width": 1, "height": 1, "data": {"values": []}, "mark": "point"},
    {"bounds": "flush", "spacing": 392, "hconcat": [
      {"width": 1, "height": 1, "data": {"values": []}, "mark": "point"},
      {"width": 1, "height": 248, "data": {"values": []}, "mark": "point", "view": {"stroke": "#c6c6c6", "strokeWidth": 1}}
    ]}
  ]},
  {"bounds": "flush", "spacing": 540, "vconcat": [
    {"width": 1, "height": 1, "data": {"values": []}, "mark": "point"},
    {"bounds": "flush", "spacing": 0, "hconcat": [
      {"width": 1, "height": 1, "data": {"values": []}, "mark": "point"},
      {"width": 673, "height": 1, "data": {"values": []}, "mark": "point", "view": {"stroke": "#c6c6c6", "strokeWidth": 1}}
    ]}
  ]},
  {"bounds": "flush", "spacing": 541, "vconcat": [
    {"width": 1, "height": 1, "data": {"values": []}, "mark": "point"},
    {"bounds": "flush", "spacing": 370, "hconcat": [
      {"width": 1, "height": 1, "data": {"values": []}, "mark": "point"},
      {"width": 1, "height": 260, "data": {"values": []}, "mark": "point", "view": {"stroke": "#c6c6c6", "strokeWidth": 1}}
    ]}
  ]}
]
}
